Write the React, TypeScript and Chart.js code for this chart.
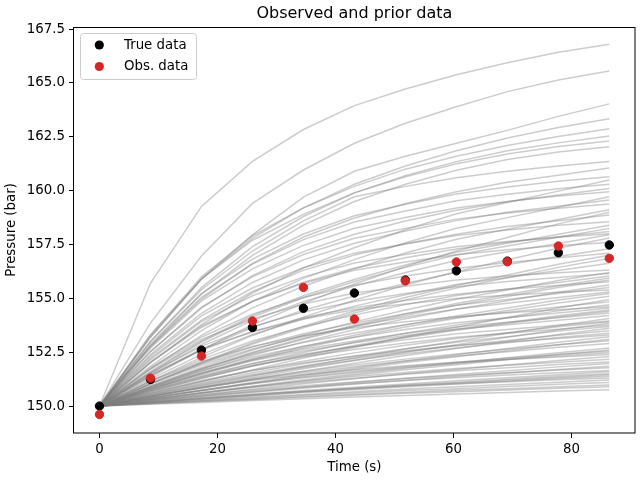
import { useEffect, useRef } from "react";
import { Chart, registerables } from "chart.js";

Chart.register(...registerables);

const times = [0, 8.64, 17.28, 25.92, 34.56, 43.2, 51.84, 60.48, 69.12, 77.76, 86.4];
const trueData = [150.0, 151.24, 152.6, 153.65, 154.54, 155.25, 155.85, 156.28, 156.73, 157.12, 157.48];
const obsData = [149.61, 151.3, 152.32, 153.95, 155.51, 154.04, 155.81, 156.69, 156.7, 157.43, 156.86];

const priorRuns: number[][] = [
  [150, 155.7, 159.27, 161.36, 162.84, 163.95, 164.72, 165.38, 165.94, 166.43, 166.8],
  [150, 153.85, 156.97, 159.41, 160.96, 162.2, 163.13, 163.9, 164.6, 165.14, 165.56],
  [150, 153.2, 155.9, 157.95, 159.7, 160.9, 161.6, 162.2, 162.8, 163.45, 164.03],
  [150, 153.2, 155.9, 157.8, 159.2, 160.3, 161.15, 161.85, 162.45, 162.93, 163.34],
  [150, 153.3, 156.0, 157.9, 159.2, 160.2, 161.0, 161.6, 162.1, 162.52, 162.88],
  [150, 153.0, 155.5, 157.4, 158.8, 159.9, 160.7, 161.35, 161.85, 162.22, 162.54],
  [150, 153.3, 155.9, 157.7, 158.9, 159.9, 160.65, 161.25, 161.7, 162.05, 162.31],
  [150, 152.8, 155.2, 157.0, 158.4, 159.5, 160.3, 160.95, 161.45, 161.8, 162.04],
  [150, 153.0, 155.4, 157.2, 158.6, 159.72, 160.2, 160.6, 160.9, 161.15, 161.35],
  [150, 152.76, 154.97, 156.63, 157.85, 158.73, 159.39, 159.95, 160.39, 160.72, 161.05],
  [150, 152.88, 155.22, 156.82, 157.99, 158.84, 159.37, 159.85, 160.17, 160.44, 160.65],
  [150, 152.0, 153.78, 155.25, 156.41, 157.35, 158.19, 158.93, 159.45, 159.98, 160.5],
  [150, 152.78, 155.05, 156.59, 157.73, 158.55, 159.06, 159.53, 159.84, 160.09, 160.3],
  [150, 152.53, 154.55, 156.06, 157.17, 157.98, 158.59, 159.09, 159.49, 159.8, 160.1],
  [150, 152.69, 154.88, 156.37, 157.46, 158.26, 158.76, 159.2, 159.5, 159.75, 159.95],
  [150, 151.85, 153.5, 154.86, 155.93, 156.8, 157.58, 158.26, 158.75, 159.23, 159.72],
  [150, 152.39, 154.31, 155.74, 156.79, 157.56, 158.13, 158.61, 159.0, 159.28, 159.57],
  [150, 152.53, 154.6, 156.0, 157.04, 157.79, 158.25, 158.68, 158.96, 159.19, 159.38],
  [150, 151.73, 153.28, 154.56, 155.56, 156.38, 157.11, 157.75, 158.21, 158.66, 159.12],
  [150, 152.22, 153.99, 155.32, 156.3, 157.01, 157.54, 157.98, 158.34, 158.6, 158.87],
  [150, 152.31, 154.19, 155.48, 156.42, 157.1, 157.53, 157.92, 158.17, 158.39, 158.56],
  [150, 151.57, 152.97, 154.13, 155.03, 155.78, 156.44, 157.01, 157.43, 157.84, 158.25],
  [150, 152.03, 153.65, 154.86, 155.75, 156.4, 156.89, 157.29, 157.61, 157.86, 158.1],
  [150, 151.51, 152.86, 153.98, 154.85, 155.57, 156.2, 156.76, 157.16, 157.55, 157.95],
  [150, 151.17, 152.26, 153.28, 154.13, 154.91, 155.62, 156.24, 156.79, 157.33, 157.8],
  [150, 152.05, 153.72, 154.86, 155.7, 156.31, 156.69, 157.03, 157.26, 157.45, 157.6],
  [150, 151.39, 152.63, 153.65, 154.45, 155.11, 155.69, 156.21, 156.57, 156.94, 157.3],
  [150, 151.78, 153.2, 154.26, 155.04, 155.61, 156.04, 156.39, 156.67, 156.89, 157.1],
  [150, 151.03, 151.99, 152.88, 153.63, 154.32, 154.93, 155.48, 155.96, 156.44, 156.85],
  [150, 151.26, 152.39, 153.32, 154.04, 154.64, 155.17, 155.64, 155.97, 156.3, 156.63],
  [150, 151.71, 153.1, 154.04, 154.74, 155.25, 155.56, 155.85, 156.04, 156.19, 156.32],
  [150, 150.93, 151.8, 152.6, 153.29, 153.91, 154.46, 154.96, 155.39, 155.83, 156.2],
  [150, 151.15, 152.17, 153.02, 153.68, 154.23, 154.71, 155.13, 155.44, 155.74, 156.04],
  [150, 151.44, 152.6, 153.46, 154.1, 154.56, 154.9, 155.19, 155.42, 155.6, 155.77],
  [150, 150.84, 151.63, 152.36, 152.98, 153.54, 154.05, 154.5, 154.89, 155.28, 155.62],
  [150, 151.05, 151.98, 152.75, 153.36, 153.85, 154.29, 154.68, 154.95, 155.23, 155.5],
  [150, 151.46, 152.64, 153.45, 154.04, 154.47, 154.74, 154.99, 155.15, 155.28, 155.39],
  [150, 150.78, 151.52, 152.2, 152.77, 153.29, 153.77, 154.18, 154.55, 154.92, 155.23],
  [150, 150.92, 151.74, 152.42, 152.95, 153.39, 153.78, 154.11, 154.36, 154.6, 154.84],
  [150, 150.71, 151.36, 151.97, 152.49, 152.96, 153.38, 153.76, 154.09, 154.42, 154.7],
  [150, 151.15, 152.07, 152.77, 153.27, 153.64, 153.92, 154.15, 154.33, 154.47, 154.61],
  [150, 150.67, 151.29, 151.87, 152.36, 152.81, 153.21, 153.57, 153.88, 154.19, 154.46],
  [150, 150.82, 151.56, 152.16, 152.64, 153.02, 153.37, 153.67, 153.89, 154.1, 154.32],
  [150, 150.49, 150.94, 151.38, 151.83, 152.24, 152.65, 153.01, 153.38, 153.74, 154.07],
  [150, 150.59, 151.14, 151.65, 152.08, 152.47, 152.82, 153.14, 153.41, 153.68, 153.92],
  [150, 150.71, 151.35, 151.88, 152.29, 152.63, 152.93, 153.2, 153.38, 153.57, 153.76],
  [150, 150.43, 150.83, 151.23, 151.62, 151.99, 152.35, 152.67, 153.0, 153.32, 153.61],
  [150, 150.53, 151.02, 151.47, 151.86, 152.21, 152.52, 152.8, 153.05, 153.29, 153.5],
  [150, 150.51, 150.98, 151.42, 151.79, 152.13, 152.43, 152.7, 152.94, 153.18, 153.38],
  [150, 150.39, 150.74, 151.09, 151.45, 151.77, 152.09, 152.38, 152.67, 152.96, 153.22],
  [150, 150.45, 150.88, 151.27, 151.61, 151.91, 152.18, 152.42, 152.64, 152.85, 153.03],
  [150, 150.31, 150.6, 150.88, 151.17, 151.43, 151.69, 151.92, 152.16, 152.39, 152.6],
  [150, 150.37, 150.72, 151.04, 151.31, 151.56, 151.79, 151.98, 152.16, 152.33, 152.48],
  [150, 150.28, 150.53, 150.78, 151.04, 151.27, 151.5, 151.7, 151.91, 152.12, 152.3],
  [150, 150.33, 150.63, 150.91, 151.15, 151.37, 151.56, 151.74, 151.89, 152.04, 152.17],
  [150, 150.24, 150.46, 150.67, 150.89, 151.09, 151.29, 151.47, 151.64, 151.82, 151.98],
  [150, 150.27, 150.52, 150.75, 150.94, 151.12, 151.28, 151.42, 151.55, 151.67, 151.78],
  [150, 150.19, 150.37, 150.54, 150.72, 150.87, 151.03, 151.18, 151.32, 151.46, 151.59],
  [150, 150.17, 150.32, 150.47, 150.63, 150.76, 150.9, 151.03, 151.15, 151.28, 151.39],
  [150, 150.15, 150.28, 150.41, 150.54, 150.67, 150.79, 150.9, 151.0, 151.11, 151.21],
  [150, 150.12, 150.23, 150.33, 150.44, 150.54, 150.64, 150.73, 150.81, 150.9, 150.98],
  [150, 150.09, 150.17, 150.26, 150.34, 150.42, 150.49, 150.56, 150.63, 150.7, 150.76],
  [150, 152.16, 153.92, 155.12, 156.0, 156.64, 157.04, 157.4, 157.64, 157.84, 158.0],
  [150, 150.88, 151.7, 152.46, 153.1, 153.69, 154.21, 154.68, 155.09, 155.5, 155.85],
  [150, 150.86, 151.64, 152.28, 152.78, 153.19, 153.55, 153.87, 154.1, 154.32, 154.55],
  [150, 150.46, 150.89, 151.31, 151.73, 152.12, 152.5, 152.85, 153.2, 153.54, 153.85],
  [150, 150.38, 150.74, 151.07, 151.35, 151.61, 151.84, 152.04, 152.22, 152.4, 152.55],
  [150, 150.18, 150.35, 150.51, 150.68, 150.83, 150.98, 151.11, 151.25, 151.38, 151.5],
  [150, 151.54, 152.77, 153.69, 154.37, 154.86, 155.23, 155.54, 155.78, 155.97, 156.15],
  [150, 150.75, 151.42, 151.98, 152.41, 152.77, 153.08, 153.36, 153.56, 153.75, 153.95],
  [150, 150.89, 151.73, 152.5, 153.15, 153.75, 154.28, 154.76, 155.18, 155.59, 155.95],
  [150, 151.01, 151.91, 152.65, 153.23, 153.71, 154.13, 154.51, 154.77, 155.04, 155.3],
  [150, 150.77, 151.48, 152.14, 152.7, 153.21, 153.67, 154.08, 154.44, 154.79, 155.1],
  [150, 150.59, 151.14, 151.68, 152.23, 152.72, 153.22, 153.66, 154.11, 154.55, 154.95],
  [150, 150.66, 151.28, 151.85, 152.33, 152.77, 153.17, 153.52, 153.83, 154.14, 154.4],
  [150, 150.8, 151.51, 152.1, 152.56, 152.94, 153.28, 153.57, 153.78, 153.99, 154.2],
  [150, 150.56, 151.07, 151.55, 151.96, 152.33, 152.66, 152.96, 153.22, 153.48, 153.7],
  [150, 150.63, 151.19, 151.65, 152.01, 152.31, 152.57, 152.81, 152.97, 153.14, 153.3],
  [150, 150.37, 150.71, 151.05, 151.4, 151.71, 152.02, 152.29, 152.57, 152.85, 153.1],
  [150, 150.44, 150.84, 151.22, 151.54, 151.83, 152.09, 152.32, 152.52, 152.73, 152.9],
  [150, 150.32, 150.62, 150.92, 151.22, 151.49, 151.76, 152.0, 152.24, 152.48, 152.7],
  [150, 150.46, 150.86, 151.2, 151.46, 151.68, 151.87, 152.04, 152.16, 152.28, 152.4],
  [150, 150.31, 150.59, 150.86, 151.09, 151.29, 151.48, 151.64, 151.78, 151.93, 152.05],
  [150, 150.22, 150.43, 150.63, 150.83, 151.02, 151.2, 151.37, 151.54, 151.7, 151.85],
  [150, 150.25, 150.48, 150.69, 150.87, 151.04, 151.19, 151.32, 151.44, 151.55, 151.65],
  [150, 150.17, 150.33, 150.49, 150.65, 150.8, 150.94, 151.07, 151.2, 151.33, 151.45],
  [150, 150.2, 150.38, 150.55, 150.69, 150.82, 150.94, 151.04, 151.13, 151.22, 151.3],
  [150, 150.13, 150.25, 150.37, 150.5, 150.61, 150.72, 150.81, 150.91, 151.01, 151.1],
  [150, 150.11, 150.21, 150.31, 150.41, 150.5, 150.59, 150.67, 150.75, 150.83, 150.9],
  [150, 151.05, 152.03, 152.94, 153.71, 154.41, 155.04, 155.6, 156.09, 156.58, 157.0],
  [150, 151.6, 153.02, 154.2, 155.12, 155.88, 156.55, 157.14, 157.56, 157.98, 158.4],
  [150, 151.35, 152.61, 153.78, 154.77, 155.67, 156.48, 157.2, 157.83, 158.46, 159.0],
];

const xTicks = [0, 20, 40, 60, 80];
const yTicks = [150.0, 152.5, 155.0, 157.5, 160.0, 162.5, 165.0, 167.5];

const titleText = "Observed and prior data";
const xLabel = "Time (s)";
const yLabel = "Pressure (bar)";
const legendLabels = ["True data", "Obs. data"];
const trueColor = "#000000";
const obsColor = "#d62728";
const FONT = '"DejaVu Sans", sans-serif';

const decorPlugin = {
  id: "decor",
  afterDraw(chart: any) {
    const { ctx, chartArea: a } = chart;
    ctx.save();
    ctx.strokeStyle = "#000";
    ctx.lineWidth = 1;
    ctx.strokeRect(Math.round(a.left) - 0.5, Math.round(a.top) + 0.5, Math.round(a.right - a.left) + 0.5, Math.round(a.bottom - a.top) - 0.5);

    ctx.fillStyle = "#000";
    ctx.textAlign = "center";
    ctx.textBaseline = "alphabetic";
    ctx.font = `16px ${FONT}`;
    ctx.fillText(titleText, (a.left + a.right) / 2, 18);

    ctx.font = `13.33px ${FONT}`;
    ctx.textBaseline = "middle";
    ctx.fillText(xLabel, (a.left + a.right) / 2, 468);

    ctx.save();
    ctx.translate(12, (a.top + a.bottom) / 2);
    ctx.rotate(-Math.PI / 2);
    ctx.fillText(yLabel, 0, 0);
    ctx.restore();

    // legend box
    const bx = 80.5, by = 33.5, bw = 116, bh = 46, r = 3;
    ctx.beginPath();
    ctx.moveTo(bx + r, by);
    ctx.lineTo(bx + bw - r, by);
    ctx.arcTo(bx + bw, by, bx + bw, by + r, r);
    ctx.lineTo(bx + bw, by + bh - r);
    ctx.arcTo(bx + bw, by + bh, bx + bw - r, by + bh, r);
    ctx.lineTo(bx + r, by + bh);
    ctx.arcTo(bx, by + bh, bx, by + bh - r, r);
    ctx.lineTo(bx, by + r);
    ctx.arcTo(bx, by, bx + r, by, r);
    ctx.closePath();
    ctx.fillStyle = "rgba(255,255,255,0.8)";
    ctx.fill();
    ctx.strokeStyle = "#cccccc";
    ctx.stroke();

    const colors = [trueColor, obsColor];
    const ys = [45, 66.5];
    ctx.textAlign = "left";
    ctx.textBaseline = "middle";
    ctx.font = `13.33px ${FONT}`;
    for (let i = 0; i < 2; i++) {
      ctx.beginPath();
      ctx.arc(99.3, ys[i], 4.6, 0, Math.PI * 2);
      ctx.fillStyle = colors[i];
      ctx.fill();
      ctx.fillStyle = "#000";
      ctx.fillText(legendLabels[i], 124, ys[i] + 0.5);
    }
    ctx.restore();
  },
};

export default function App() {
  const ref = useRef<HTMLCanvasElement | null>(null);

  useEffect(() => {
    if (!ref.current) return;
    const toPts = (vals: number[]) => times.map((t, i) => ({ x: t, y: vals[i] }));
    const tickFont = { family: FONT, size: 13.33 };

    const chart = new Chart(ref.current, {
      type: "scatter",
      data: {
        datasets: [
          {
            label: legendLabels[0],
            data: toPts(trueData),
            backgroundColor: trueColor,
            borderColor: trueColor,
            pointRadius: 4.2,
            borderWidth: 1,
            showLine: false,
            order: 1,
          } as any,
          {
            label: legendLabels[1],
            data: toPts(obsData),
            backgroundColor: obsColor,
            borderColor: obsColor,
            pointRadius: 4.2,
            borderWidth: 1,
            showLine: false,
            order: 0,
          } as any,
          ...priorRuns.map(
            (run) =>
              ({
                data: toPts(run),
                showLine: true,
                borderColor: "rgba(128,128,128,0.4)",
                borderWidth: 1.5,
                pointRadius: 0,
                fill: false,
                order: 2,
              } as any)
          ),
        ],
      },
      options: {
        responsive: false,
        animation: false,
        devicePixelRatio: 1,
        layout: { padding: { left: 0, right: 4, top: 27, bottom: 0 } },
        plugins: {
          legend: { display: false },
          title: { display: false },
          tooltip: { enabled: false },
        },
        scales: {
          x: {
            type: "linear",
            min: -4.32,
            max: 90.72,
            afterBuildTicks: (s: any) => {
              s.ticks = xTicks.map((v) => ({ value: v }));
            },
            afterFit: (s: any) => {
              s.height = 47;
            },
            grid: { drawOnChartArea: false, drawTicks: true, tickLength: 5, color: "#000" },
            border: { display: false },
            ticks: {
              color: "#000",
              font: tickFont,
              padding: 4,
              maxRotation: 0,
              autoSkip: false,
              callback: (v: any) => String(v),
            },
          },
          y: {
            type: "linear",
            min: 148.75,
            max: 167.6,
            afterBuildTicks: (s: any) => {
              s.ticks = yTicks.map((v) => ({ value: v }));
            },
            afterFit: (s: any) => {
              s.width = 74;
            },
            grid: { drawOnChartArea: false, drawTicks: true, tickLength: 5, color: "#000" },
            border: { display: false },
            ticks: {
              color: "#000",
              font: tickFont,
              padding: 4,
              autoSkip: false,
              callback: (v: any) => Number(v).toFixed(1),
            },
          },
        },
      },
      plugins: [decorPlugin],
    });
    return () => chart.destroy();
  }, []);

  return (
    <div style={{ position: "absolute", left: 0, top: 0, width: 640, height: 480, background: "#fff" }}>
      <canvas ref={ref} width={640} height={480} />
    </div>
  );
}
